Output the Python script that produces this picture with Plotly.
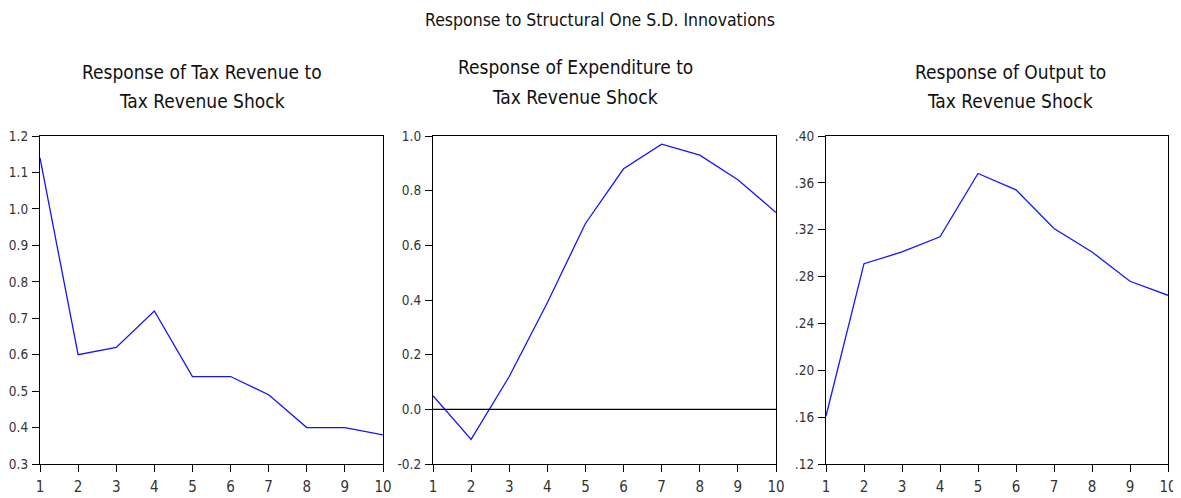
import plotly.graph_objects as go

periods = [1, 2, 3, 4, 5, 6, 7, 8, 9, 10]
tax_revenue = [1.14, 0.60, 0.62, 0.72, 0.54, 0.54, 0.49, 0.40, 0.40, 0.38]
expenditure = [0.05, -0.11, 0.12, 0.39, 0.68, 0.88, 0.97, 0.93, 0.84, 0.72]
output = [0.161, 0.291, 0.301, 0.314, 0.368, 0.354, 0.321, 0.301, 0.276, 0.264]

main_title = "Response to Structural One S.D. Innovations"
panel_titles = [
    ["Response of Tax Revenue to", "Tax Revenue Shock"],
    ["Response of Expenditure to", "Tax Revenue Shock"],
    ["Response of Output to", "Tax Revenue Shock"],
]
y1_ticks = [0.3, 0.4, 0.5, 0.6, 0.7, 0.8, 0.9, 1.0, 1.1, 1.2]
y2_ticks = [-0.2, 0.0, 0.2, 0.4, 0.6, 0.8, 1.0]
y3_ticks = [0.12, 0.16, 0.20, 0.24, 0.28, 0.32, 0.36, 0.40]
y3_labels = [".12", ".16", ".20", ".24", ".28", ".32", ".36", ".40"]

# the page body adds an 8px offset; lay out in reference pixels minus that offset
OFF = 8
W, H = 1181 - OFF, 498 - OFF
FONT = "DejaVu Sans Condensed, Liberation Sans Narrow, sans-serif"


def px(x):
    return (x - OFF) / W


def py(y):
    return 1 - (y - OFF) / H


fig = go.Figure()
series = [tax_revenue, expenditure, output]
for i, s in enumerate(series):
    sfx = "" if i == 0 else str(i + 1)
    fig.add_trace(go.Scatter(x=periods, y=s, mode="lines",
                             line=dict(color="#1414ff", width=1.3),
                             xaxis="x" + sfx, yaxis="y" + sfx, showlegend=False))

# zero line in panel 2
fig.add_trace(go.Scatter(x=[1, 10], y=[0, 0], mode="lines",
                         line=dict(color="black", width=1.3),
                         xaxis="x2", yaxis="y2", showlegend=False))

xdoms = [(40, 383), (433, 776), (826, 1168)]
ydom = [py(464), py(136)]

common_axis = dict(showline=True, linecolor="black", linewidth=1.3, mirror=True,
                   ticks="outside", ticklen=7, tickcolor="black", tickwidth=1.3,
                   showgrid=False, zeroline=False, automargin=False)

yspecs = [
    dict(range=[0.3, 1.2], tickvals=y1_ticks, ticktext=[f"{v:.1f}" for v in y1_ticks]),
    dict(range=[-0.2, 1.0], tickvals=y2_ticks, ticktext=[f"{v:.1f}" for v in y2_ticks]),
    dict(range=[0.12, 0.40], tickvals=y3_ticks, ticktext=y3_labels),
]

layout = dict(width=W, height=H, margin=dict(l=0, r=0, t=0, b=0, autoexpand=False),
              paper_bgcolor="white", plot_bgcolor="white")
for i in range(3):
    sfx = "" if i == 0 else str(i + 1)
    layout["xaxis" + sfx] = dict(domain=[px(xdoms[i][0]), px(xdoms[i][1])],
                                 range=[1, 10], tickvals=periods, anchor="y" + sfx,
                                 ticklabelstandoff=2,
                                 tickfont=dict(family=FONT, size=15, color="#333"),
                                 **common_axis)
    layout["yaxis" + sfx] = dict(domain=ydom, anchor="x" + sfx, **yspecs[i],
                                 ticklabelstandoff=1,
                                 tickfont=dict(family=FONT, size=13.5, color="#333"),
                                 **common_axis)

fig.update_layout(**layout)

annotations = [dict(text=main_title, x=px(600), y=py(20), xref="paper", yref="paper",
                    showarrow=False, font=dict(family=FONT, size=17.5, color="#111"),
                    xanchor="center", yanchor="middle")]
title_pos = [(202, 72, 101), (575, 67, 97), (1010, 72, 101)]
for (cx, y1, y2), lines in zip(title_pos, panel_titles):
    for yy, t in zip((y1, y2), lines):
        annotations.append(dict(text=t, x=px(cx), y=py(yy), xref="paper", yref="paper",
                                showarrow=False, font=dict(family=FONT, size=19, color="#111"),
                                xanchor="center", yanchor="middle"))
fig.update_layout(annotations=annotations)

fig.write_html("out.html")
